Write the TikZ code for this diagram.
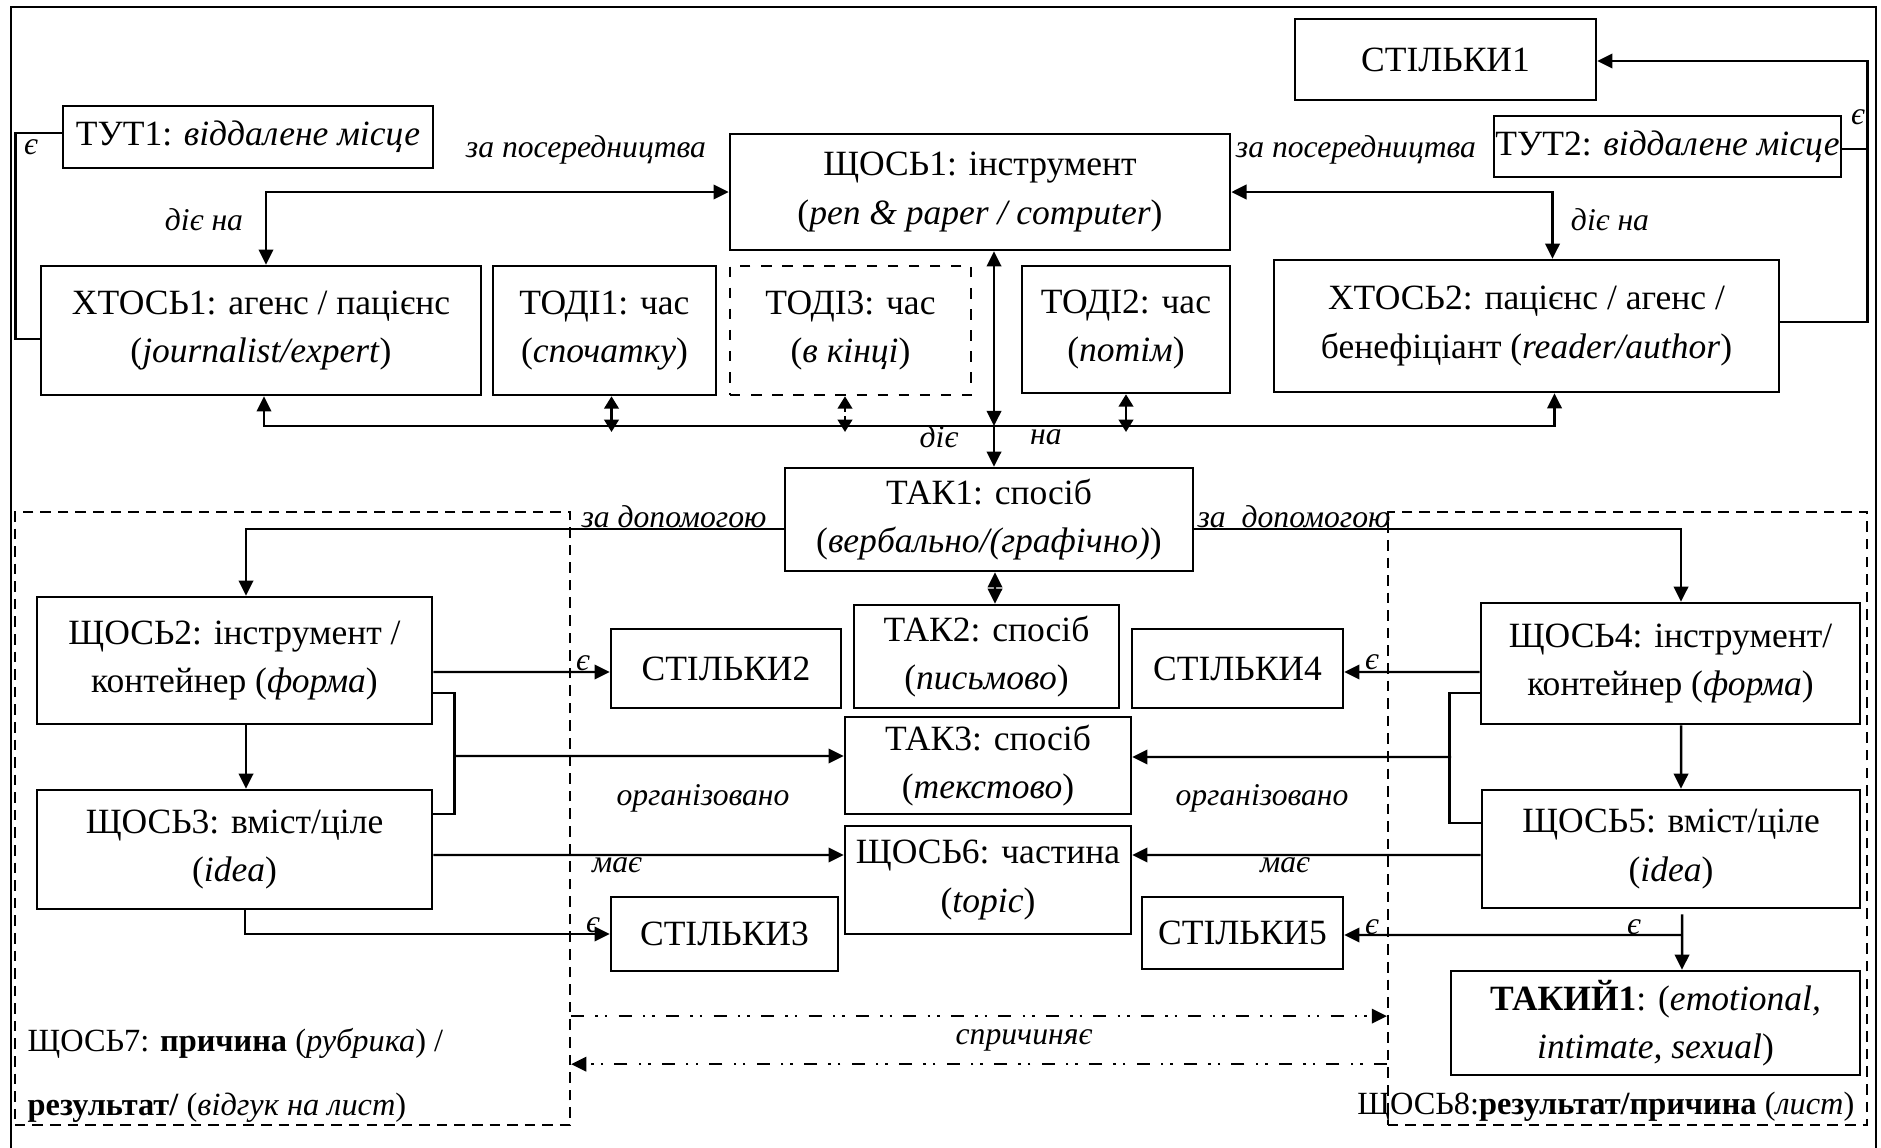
\documentclass[tikz,border=0pt]{standalone}
\usepackage{fontspec}
\setmainfont{Liberation Serif}
\usetikzlibrary{arrows.meta}

\newcommand{\boxsize}{\fontsize{10.1}{13.8}\selectfont}
\newcommand{\lblsize}{\fontsize{9}{11}\selectfont}
\newcommand{\grpsize}{\fontsize{9.2}{11}\selectfont}

\tikzset{
  box/.style={draw,line width=0.7pt,align=center,inner sep=0pt,font=\boxsize},
  grp/.style={draw,line width=0.55pt,dash pattern=on 3pt off 2pt,inner sep=0pt},
  lbl/.style={font=\lblsize\itshape,inner sep=0pt},
  grplbl/.style={font=\grpsize,inner sep=0pt},
  con/.style={line width=0.7pt},
  arr/.style={con,-{Triangle[length=4.3pt,width=4.1pt]}},
  darr/.style={con,{Triangle[length=4.3pt,width=4.1pt]}-{Triangle[length=4.3pt,width=4.1pt]}},
  sarr/.style={con,{Triangle[length=3.5pt,width=4.1pt]}-{Triangle[length=3.5pt,width=4.1pt]}},
  cause/.style={line width=0.6pt,dash pattern=on 3.7pt off 3.2pt on 0.7pt off 2pt on 0.7pt off 3.2pt,
    -{Triangle[length=4.3pt,width=4.1pt]}}
}

\begin{document}
\begin{tikzpicture}[x=0.01cm,y=-0.01cm]
\useasboundingbox (0,0) rectangle (1881,1148);
\draw[line width=0.5pt] (11,1148) -- (11,7) -- (1876,7) -- (1876,1148);

% dashed groups
\node[grp,minimum width=5.55cm,minimum height=6.13cm] (grp7) at (292.5,818.5) {};
\node[grp,minimum width=4.79cm,minimum height=6.13cm] (grp8) at (1627.5,818.5) {};

% top row
\node[box,minimum width=3.01cm,minimum height=0.81cm] (stilky1) at (1445.5,59.5) {СТІЛЬКИ1};
\node[box,minimum width=3.70cm,minimum height=0.62cm] (tut1) at (248,137) {ТУТ1: \textit{віддалене місце}};
\node[box,minimum width=3.47cm,minimum height=0.61cm] (tut2) at (1667.5,146.5) {ТУТ2: \textit{віддалене місце}};
\node[box,minimum width=5.00cm,minimum height=1.16cm] (shchos1) at (980,192)
  {ЩОСЬ1: інструмент\\(\textit{pen \& paper / computer})};

% agents and time
\node[box,minimum width=4.40cm,minimum height=1.29cm] (khtos1) at (261,330.5)
  {ХТОСЬ1: агенс / пацієнс\\(\textit{journalist/expert})};
\node[box,minimum width=2.23cm,minimum height=1.29cm] (todi1) at (604.5,330.5)
  {ТОДІ1: час\\(\textit{спочатку})};
\node[box,dashed,minimum width=2.41cm,minimum height=1.29cm] (todi3) at (850.5,330.5)
  {ТОДІ3: час\\(\textit{в кінці})};
\node[box,minimum width=2.08cm,minimum height=1.27cm] (todi2) at (1126,329.5)
  {ТОДІ2: час\\(\textit{потім})};
\node[box,minimum width=5.05cm,minimum height=1.32cm] (khtos2) at (1526.5,326)
  {ХТОСЬ2: пацієнс / агенс /\\бенефіціант (\textit{reader/author})};

% manner
\node[box,minimum width=4.08cm,minimum height=1.03cm] (tak1) at (989,519.5)
  {ТАК1: спосіб\\(\textit{вербально/(графічно)})};
\node[box,minimum width=2.65cm,minimum height=1.03cm] (tak2) at (986.5,656.5)
  {ТАК2: спосіб\\(\textit{письмово})};
\node[box,minimum width=2.86cm,minimum height=0.97cm] (tak3) at (988,765.5)
  {ТАК3: спосіб\\(\textit{текстово})};
\node[box,minimum width=2.86cm,minimum height=1.08cm] (shchos6) at (988,880)
  {ЩОСЬ6: частина\\(\textit{topic})};

% left side
\node[box,minimum width=3.95cm,minimum height=1.27cm] (shchos2) at (234.5,660.5)
  {ЩОСЬ2: інструмент /\\контейнер (\textit{форма})};
\node[box,minimum width=3.95cm,minimum height=1.19cm] (shchos3) at (234.5,849.5)
  {ЩОСЬ3: вміст/ціле\\(\textit{idea})};
\node[box,minimum width=2.30cm,minimum height=0.79cm] (stilky2) at (726,668.5) {СТІЛЬКИ2};
\node[box,minimum width=2.27cm,minimum height=0.74cm] (stilky3) at (724.5,934) {СТІЛЬКИ3};

% right side
\node[box,minimum width=3.79cm,minimum height=1.21cm] (shchos4) at (1670.5,663.5)
  {ЩОСЬ4: інструмент/\\контейнер (\textit{форма})};
\node[box,minimum width=3.78cm,minimum height=1.18cm] (shchos5) at (1671,849)
  {ЩОСЬ5: вміст/ціле\\(\textit{idea})};
\node[box,minimum width=2.11cm,minimum height=0.79cm] (stilky4) at (1237.5,668.5) {СТІЛЬКИ4};
\node[box,minimum width=2.01cm,minimum height=0.72cm] (stilky5) at (1242.5,933) {СТІЛЬКИ5};
\node[box,minimum width=4.09cm,minimum height=1.04cm] (takyi1) at (1655.5,1023)
  {\textbf{ТАКИЙ1}: (\textit{emotional,}\\\textit{intimate, sexual})};

% є : ТУТ1 -- ХТОСЬ1 and ТУТ2, ХТОСЬ2 -> СТІЛЬКИ1
\draw[con] ([yshift=0.04cm]tut1.west) -- ++(-46,0) |- ([yshift=-0.085cm]khtos1.west);
\node[lbl] (e1) at (31,147) {є};
\draw[arr] ([yshift=0.04cm]khtos2.east) -- ++(87,0) |- ([yshift=-0.015cm]stilky1.east);
\draw[con] ([yshift=-0.025cm]tut2.east) -- ++(25,0);
\node[lbl] (e2) at (1858,117) {є};

% за посередництва / діє на
\draw[darr] ([xshift=0.05cm]khtos1.north) |- (shchos1.west);
\draw[darr] (shchos1.east) -| ([xshift=0.26cm]khtos2.north);
\node[lbl] (posl) at (586,150) {за посередництва};
\node[lbl] (posr) at (1356,150) {за посередництва};
\node[lbl] (dial) at (204,220) {діє на};
\node[lbl] (diar) at (1610,220) {діє на};

% time line
\coordinate (hb) at (0,426);
\coordinate (hbt) at (0,432);
\draw[darr] ([xshift=0.03cm]khtos1.south) -- ([xshift=0.03cm]khtos1.south |- hb)
  -| ([xshift=0.28cm]khtos2.south);
\draw[sarr] ([xshift=0.07cm]todi1.south) -- ([xshift=0.07cm]todi1.south |- hbt);
\draw[sarr,dash pattern=on 1.2pt off 1.2pt] ([xshift=-0.055cm]todi3.south) -- ([xshift=-0.055cm]todi3.south |- hbt);
\draw[sarr] (todi2.south) -- (todi2.south |- hbt);
\draw[darr] ([xshift=0.14cm]shchos1.south) -- ([xshift=0.14cm]shchos1.south |- hb);
\draw[arr] ([xshift=0.05cm]tak1.north |- hb) -- ([xshift=0.05cm]tak1.north);
\node[lbl] (die) at (939,437) {діє};
\node[lbl] (na) at (1046,437) {на};

% за допомогою
\draw[arr] ([yshift=-0.095cm]tak1.west) -| ([xshift=0.115cm]shchos2.north);
\draw[arr] ([yshift=-0.095cm]tak1.east) -| ([xshift=0.105cm]shchos4.north);
\draw[darr] ([xshift=0.06cm]tak1.south) -- ([xshift=0.085cm]tak2.north);
\node[lbl] (dopl) at (674,517) {за допомогою};
\node[lbl] (dopr) at (1294,517) {за\ \ допомогою};

% left branch
\draw[arr] ([yshift=-0.115cm]shchos2.east) -- ([yshift=-0.035cm]stilky2.west);
\node[lbl] (e3) at (583,663) {є};
\draw[arr] ([xshift=0.115cm]shchos2.south) -- ([xshift=0.115cm]shchos3.north);
\draw[con] ([yshift=-0.325cm]shchos2.east) -- ++(21,0) |- ([yshift=0.355cm]shchos3.east);
\coordinate (lbr) at (453,756);
\draw[arr] (lbr) -- ([yshift=0.095cm]tak3.west);
\node[lbl] (orgl) at (703,798) {організовано};
\draw[arr] ([yshift=-0.055cm]shchos3.east) -- ([yshift=0.25cm]shchos6.west);
\node[lbl] (mal) at (617,865) {має};
\draw[arr] ([xshift=0.105cm]shchos3.south) |- (stilky3.west);
\node[lbl] (e4) at (593,925) {є};

% right branch
\draw[arr] ([yshift=-0.085cm]shchos4.west) -- ([yshift=-0.035cm]stilky4.east);
\node[lbl] (e5) at (1372,662) {є};
\draw[arr] ([xshift=0.105cm]shchos4.south) -- ([xshift=0.1cm]shchos5.north);
\draw[con] ([yshift=-0.295cm]shchos4.west) -- ++(-30,0) |- ([yshift=0.26cm]shchos5.west);
\coordinate (rbr) at (1451,757);
\draw[arr] (rbr) -- ([yshift=0.085cm]tak3.east);
\node[lbl] (orgr) at (1262,798) {організовано};
\draw[arr] ([yshift=-0.06cm]shchos5.west) -- ([yshift=0.25cm]shchos6.east);
\node[lbl] (mar) at (1285,865) {має};
\coordinate (rsp) at (1682,935);
\draw[arr] ([xshift=0.11cm,yshift=-0.05cm]shchos5.south) -- ([xshift=0.265cm]takyi1.north);
\draw[arr] (rsp) -- ([yshift=-0.02cm]stilky5.east);
\node[lbl] (e6) at (1372,927) {є};
\node[lbl] (e7) at (1634,927) {є};

% спричиняє
\draw[cause] ([yshift=-1.975cm]grp7.east) -- ([yshift=-1.975cm]grp8.west);
\draw[cause] ([yshift=-2.455cm]grp8.west) -- ([yshift=-2.455cm]grp7.east);
\node[lbl] (spr) at (1024,1040) {спричиняє};

% group captions
\node[grplbl,anchor=base west] (g7a) at (27,1051) {ЩОСЬ7: \textbf{причина} (\textit{рубрика}) /};
\node[grplbl,anchor=base west] (g7b) at (27,1115) {\textbf{результат/} (\textit{відгук на лист})};
\node[grplbl,anchor=base east] (g8) at (1855,1114) {ЩОСЬ8:\textbf{результат/причина} (\textit{лист})};
\end{tikzpicture}
\end{document}
